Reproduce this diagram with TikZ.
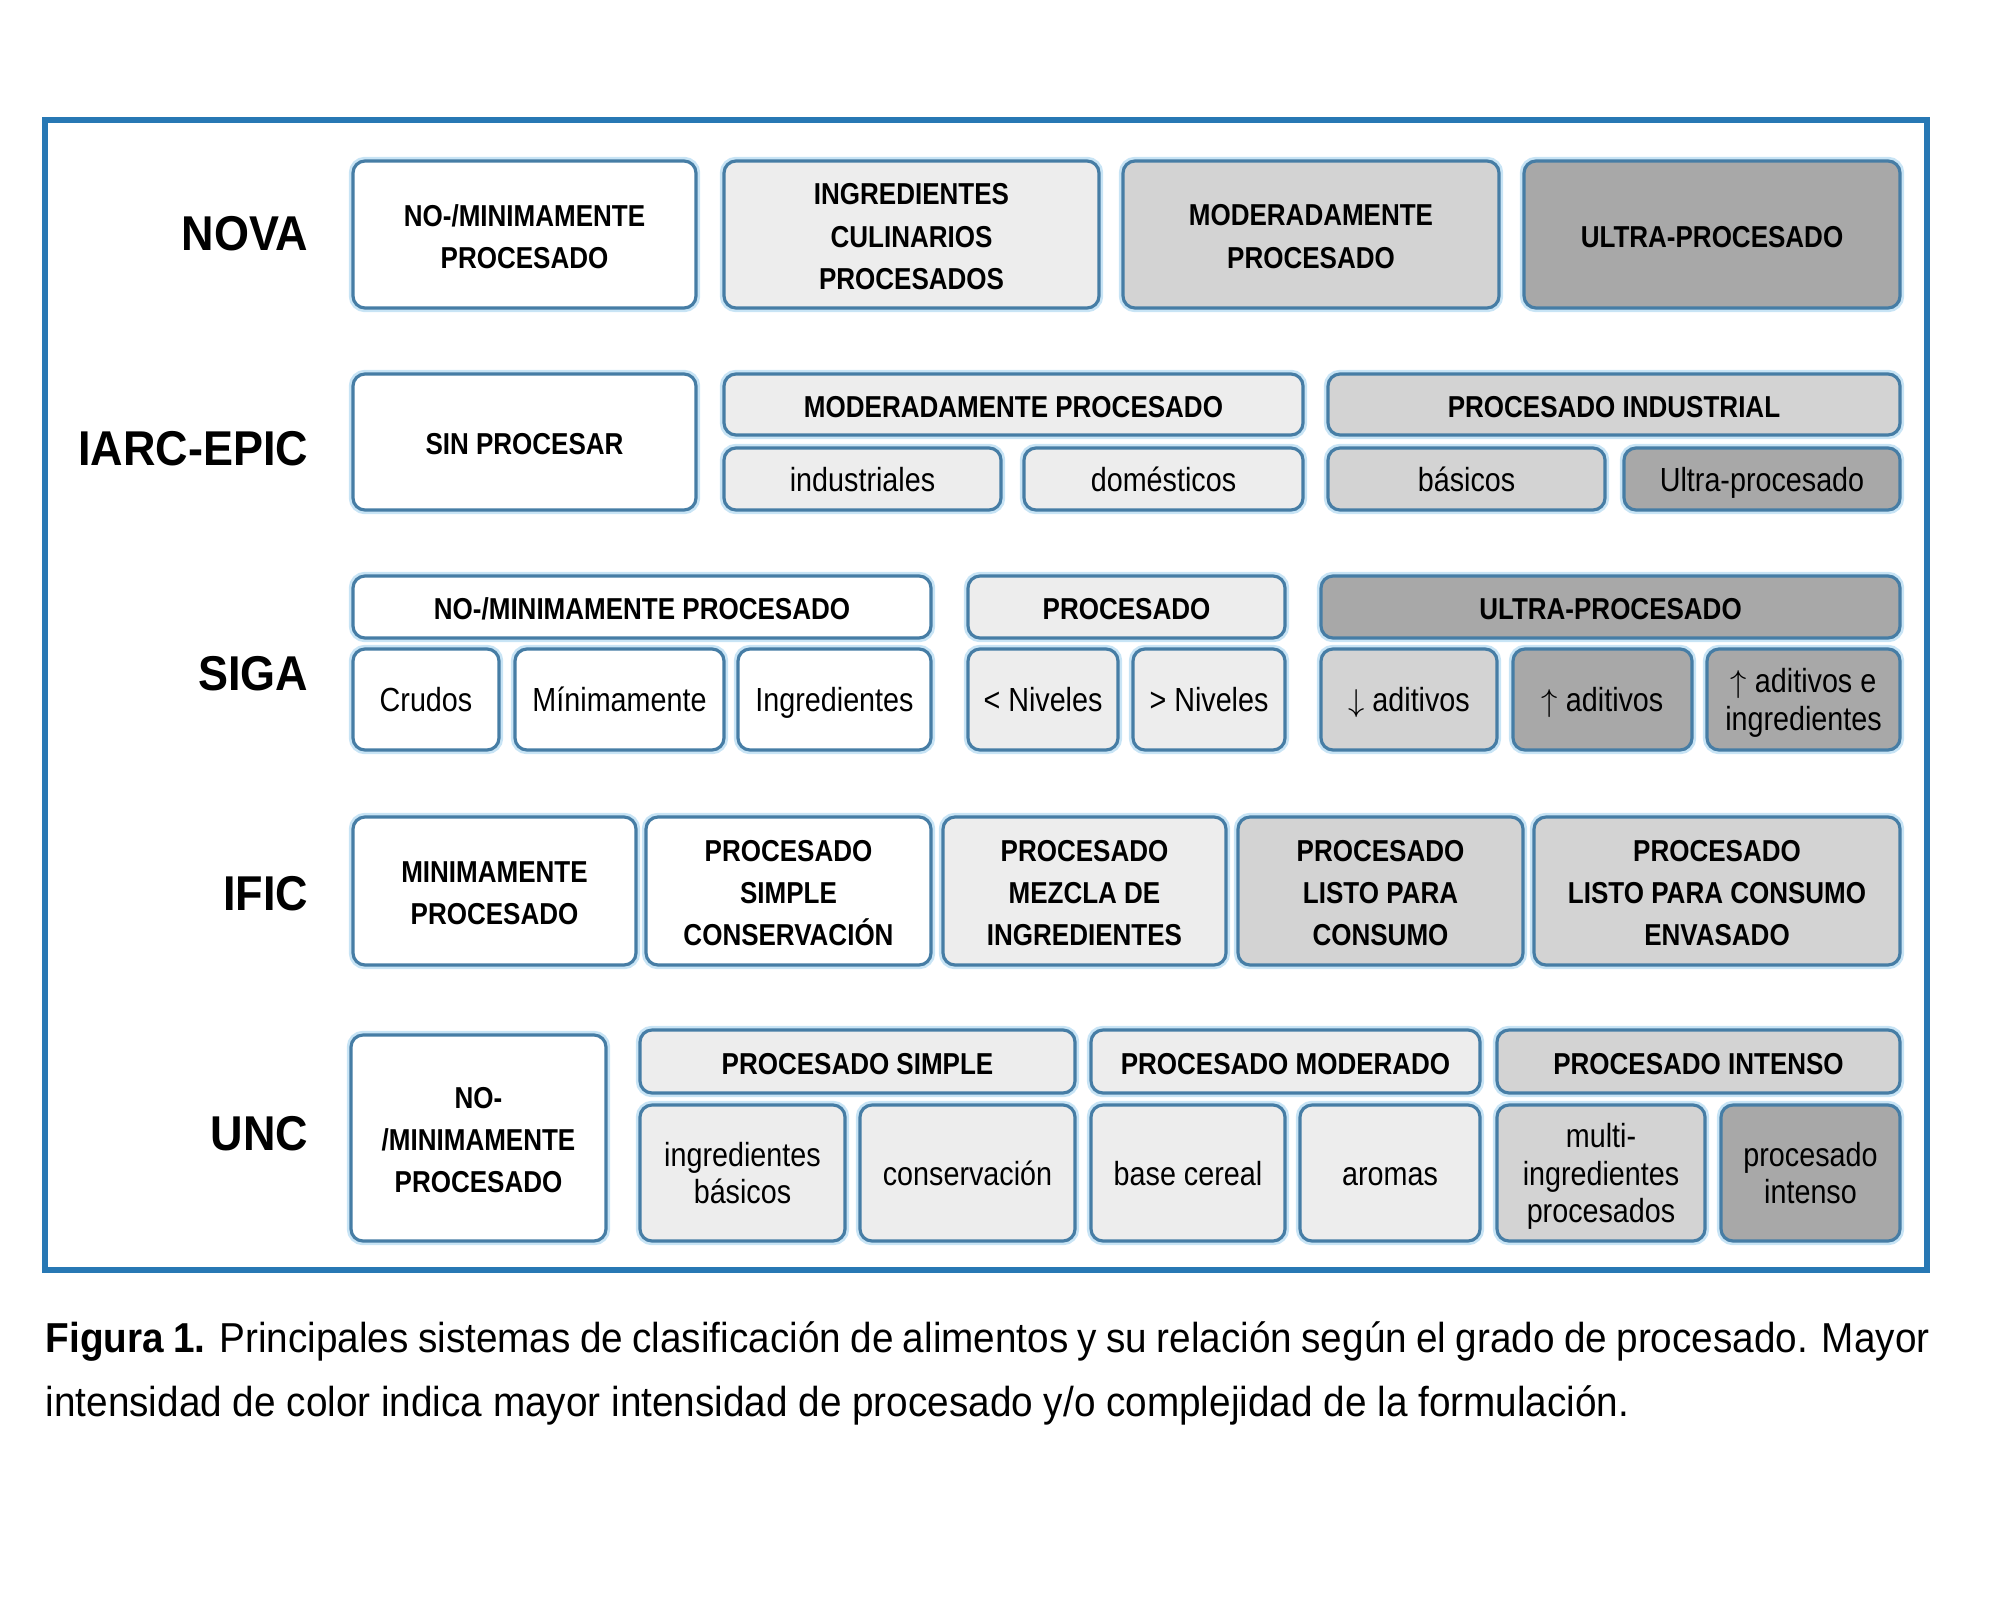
\documentclass[tikz,border=0pt]{standalone}
\usepackage{fontspec}
\setmainfont[FakeStretch=0.86]{Liberation Sans}
\newfontfamily\labelfont[FakeStretch=0.92]{Liberation Sans}
\newfontfamily\capfont[FakeStretch=0.925]{Liberation Sans}
\definecolor{frameblue}{RGB}{40,120,180}
\definecolor{boxline}{RGB}{70,125,165}
\definecolor{glow}{RGB}{200,228,245}
\definecolor{lite}{RGB}{237,237,237}
\definecolor{midg}{RGB}{211,211,211}
\definecolor{darkg}{RGB}{168,168,168}
\begin{document}
\begin{tikzpicture}[x=0.01cm,y=-0.01cm,
  box/.style={draw=boxline,line width=0.9pt,rounded corners=0.12cm,
    preaction={draw=glow,line width=2.4pt}},
  hdr/.style={align=center,text depth=0pt,yshift=-0.02cm,
    font=\bfseries\fontsize{8.6}{12}\selectfont},
  sub/.style={align=center,text depth=0pt,
    execute at begin node={\vphantom{Ab}},
    font=\fontsize{9.5}{10.6}\selectfont},
  lbl/.style={anchor=base east,inner sep=0pt,
    font=\labelfont\bfseries\fontsize{13.9}{16}\selectfont},
  captxt/.style={anchor=north west,inner sep=0pt,text width=18.83cm,
    align=justify,font=\capfont\fontsize{11.9}{18.2}\selectfont}]
  \useasboundingbox (0,0) rectangle (2000,1600);
  % Draw frame
  \draw[frameblue,line width=1.45pt] (45,120) rectangle (1927,1270);
  % Draw system names
  \node[lbl] (nova) at (309,250) {NOVA};
  \node[lbl] (iarc) at (309,465) {IARC-EPIC};
  \node[lbl] (siga) at (309,690) {SIGA};
  \node[lbl] (ific) at (309,910) {IFIC};
  \node[lbl] (unc)  at (309,1150) {UNC};
  % NOVA row
  \draw[box,fill=white] (353,161) rectangle
        node[hdr] (nova1) {NO-/MINIMAMENTE\\PROCESADO} (696,308);
  \draw[box,fill=lite]  (724,161) rectangle
        node[hdr] (nova2) {INGREDIENTES\\CULINARIOS\\PROCESADOS} (1099,308);
  \draw[box,fill=midg]  (1123,161) rectangle
        node[hdr] (nova3) {MODERADAMENTE\\PROCESADO} (1499,308);
  \draw[box,fill=darkg] (1524,161) rectangle
        node[hdr] (nova4) {ULTRA-PROCESADO} (1900,308);
  % IARC-EPIC row
  \draw[box,fill=white] (353,374) rectangle
        node[hdr] (iarc1) {SIN PROCESAR} (696,510);
  \draw[box,fill=lite]  (724,374) rectangle
        node[hdr] (iarcM) {MODERADAMENTE PROCESADO} (1303,435);
  \draw[box,fill=midg]  (1328,374) rectangle
        node[hdr] (iarcI) {PROCESADO INDUSTRIAL} (1900,435);
  \draw[box,fill=lite]  (724,448) rectangle
        node[sub] (iarc2) {industriales} (1001,510);
  \draw[box,fill=lite]  (1024,448) rectangle
        node[sub] (iarc3) {domésticos} (1303,510);
  \draw[box,fill=midg]  (1328,448) rectangle
        node[sub] (iarc4) {básicos} (1605,510);
  \draw[box,fill=darkg] (1624,448) rectangle
        node[sub] (iarc5) {Ultra-procesado} (1900,510);
  % SIGA row
  \draw[box,fill=white] (353,576) rectangle
        node[hdr] (sigaN) {NO-/MINIMAMENTE PROCESADO} (931,638);
  \draw[box,fill=lite]  (968,576) rectangle
        node[hdr] (sigaP) {PROCESADO} (1285,638);
  \draw[box,fill=darkg] (1321,576) rectangle
        node[hdr] (sigaU) {ULTRA-PROCESADO} (1900,638);
  \draw[box,fill=white] (353,649) rectangle
        node[sub] (siga1) {Crudos} (499,750);
  \draw[box,fill=white] (515,649) rectangle
        node[sub] (siga2) {Mínimamente} (724,750);
  \draw[box,fill=white] (738,649) rectangle
        node[sub] (siga3) {Ingredientes} (931,750);
  \draw[box,fill=lite]  (968,649) rectangle
        node[sub] (siga4) {< Niveles} (1118,750);
  \draw[box,fill=lite]  (1133,649) rectangle
        node[sub] (siga5) {> Niveles} (1285,750);
  \draw[box,fill=midg]  (1321,649) rectangle
        node[sub] (siga6) {$\downarrow$ aditivos} (1497,750);
  \draw[box,fill=darkg] (1513,649) rectangle
        node[sub] (siga7) {$\uparrow$ aditivos} (1692,750);
  \draw[box,fill=darkg] (1707,649) rectangle
        node[sub] (siga8) {$\uparrow$ aditivos e\\ingredientes} (1900,750);
  % IFIC row
  \draw[box,fill=white] (353,817) rectangle
        node[hdr] (ific1) {MINIMAMENTE\\PROCESADO} (636,965);
  \draw[box,fill=white] (646,817) rectangle
        node[hdr] (ific2) {PROCESADO\\SIMPLE\\CONSERVACIÓN} (931,965);
  \draw[box,fill=lite]  (943,817) rectangle
        node[hdr] (ific3) {PROCESADO\\MEZCLA DE\\INGREDIENTES} (1226,965);
  \draw[box,fill=midg]  (1238,817) rectangle
        node[hdr] (ific4) {PROCESADO\\LISTO PARA\\CONSUMO} (1523,965);
  \draw[box,fill=midg]  (1534,817) rectangle
        node[hdr] (ific5) {PROCESADO\\LISTO PARA CONSUMO\\ENVASADO} (1900,965);
  % UNC row
  \draw[box,fill=white] (351,1035) rectangle
        node[hdr] (unc1) {NO-\\/MINIMAMENTE\\PROCESADO} (606,1241);
  \draw[box,fill=lite]  (640,1030) rectangle
        node[hdr] (uncS) {PROCESADO SIMPLE} (1075,1093);
  \draw[box,fill=lite]  (1091,1030) rectangle
        node[hdr] (uncM) {PROCESADO MODERADO} (1480,1093);
  \draw[box,fill=midg]  (1497,1030) rectangle
        node[hdr] (uncI) {PROCESADO INTENSO} (1900,1093);
  \draw[box,fill=lite]  (640,1105) rectangle
        node[sub] (unc2) {ingredientes\\básicos} (845,1241);
  \draw[box,fill=lite]  (860,1105) rectangle
        node[sub] (unc3) {conservación} (1075,1241);
  \draw[box,fill=lite]  (1091,1105) rectangle
        node[sub] (unc4) {base cereal} (1285,1241);
  \draw[box,fill=lite]  (1300,1105) rectangle
        node[sub] (unc5) {aromas} (1480,1241);
  \draw[box,fill=midg]  (1497,1105) rectangle
        node[sub] (unc6) {multi-\\ingredientes\\procesados} (1705,1241);
  \draw[box,fill=darkg] (1721,1105) rectangle
        node[sub] (unc7) {procesado\\intenso} (1900,1241);
  % Draw caption
  \node[captxt] (caption) at (45,1321) {\textbf{Figura 1.} Principales sistemas
    de clasificación de alimentos y su relación según el grado de
    procesado. Mayor\linebreak intensidad de color indica mayor intensidad
    de procesado y/o complejidad de la formulación.};
\end{tikzpicture}
\end{document}
